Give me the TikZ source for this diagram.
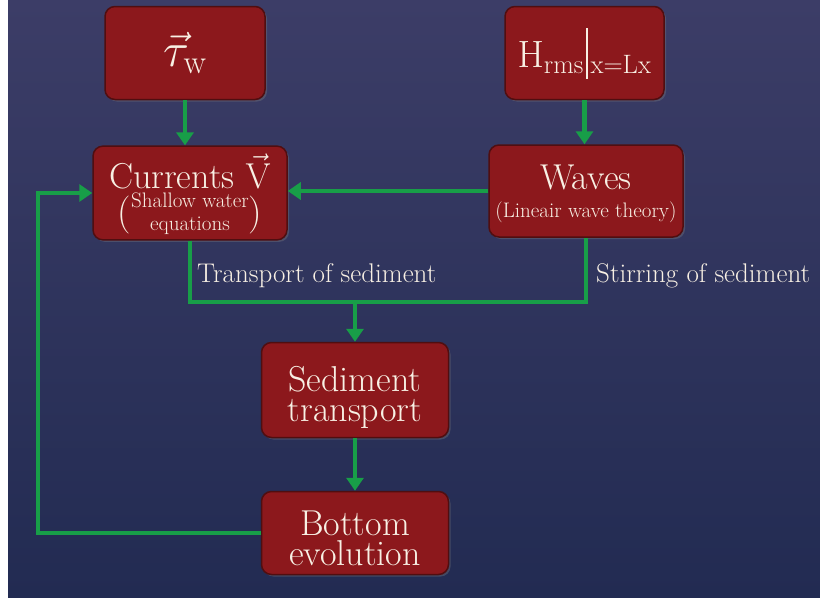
\RequirePackage{fix-cm}
\documentclass[tikz,border=0pt]{standalone}
\usepackage{amsmath}
\usepackage{tikz}
\usetikzlibrary{positioning, calc, arrows.meta, shapes, shadows}

\definecolor{bgtop}{RGB}{60,61,103}
\definecolor{bgbot}{RGB}{34,43,82}
\definecolor{boxred}{RGB}{140,24,28}
\definecolor{boxedge}{RGB}{80,14,16}
\definecolor{boxtext}{RGB}{248,240,228}
\definecolor{flowgreen}{RGB}{24,158,72}
\newcommand{\topstrut}[1]{\rule{0pt}{#1}}
\newcommand{\bigparen}[1]{\raisebox{-4.25pt}{\fontsize{38}{38}\selectfont#1}}

\begin{document}
\begin{tikzpicture}[x=1pt, y=-1pt,
    block/.style={rectangle, rounded corners=10pt, fill=boxred, draw=boxedge,
        line width=1.5pt, text=boxtext, align=center, inner sep=2pt,
        drop shadow={opacity=0.35, shadow xshift=2pt, shadow yshift=-2pt},
        font=\fontsize{36}{30}\selectfont},
    flow/.style={flowgreen, line width=4.5pt, -{Triangle[width=17pt,length=13pt]}},
    lbl/.style={text=boxtext, font=\fontsize{27}{30}\selectfont, inner sep=0pt, anchor=base west}]
    \useasboundingbox (0,0) rectangle (820,600);
    \shade[top color=bgtop, bottom color=bgbot] (8,0) rectangle (820,597);
    \node[block, minimum width=160pt, minimum height=93pt, font=\fontsize{48}{48}\selectfont] (tau) at (185,53)
        {$\vec{\tau}_{\mathrm{w}}$};
    \node[block, minimum width=159pt, minimum height=93pt, font=\fontsize{38}{40}\selectfont] (hrms) at (584.5,53)
        {$\mathrm{H}_{\mathrm{rms}}$\hspace{2pt}\rule[-11pt]{1.8pt}{51pt}\hspace{3pt}${}_{\mathrm{x=Lx}}$};
    \node[block, minimum width=194pt, minimum height=93pt] (curr) at (190,193)
        {\topstrut{40pt}Currents $\vec{\mathrm{V}}$\\[2pt]
         {\fontsize{21}{23}\selectfont\bigparen{(}\begin{tabular}{@{}c@{}}Shallow water\\
         equations\end{tabular}\bigparen{)}}};
    \node[block, minimum width=194pt, minimum height=92pt] (waves) at (586,191)
        {\topstrut{30pt}Waves\\[-2pt]{\fontsize{21}{22}\selectfont (Lineair wave theory)}};
    \node[block, minimum width=187pt, minimum height=95pt] (sed) at (355,390)
        {\topstrut{41pt}Sediment\\transport};
    \node[block, minimum width=187pt, minimum height=83pt] (bot) at (355,533)
        {\topstrut{35pt}Bottom\\evolution};
    \coordinate (split) at (355,302);
    \coordinate (back) at (38,536);
    \draw[flow] (tau) -- (tau |- curr.north);
    \draw[flow] (hrms) -- (hrms |- waves.north);
    \draw[flow] (waves.west) -- (waves.west -| curr.east);
    \draw[flowgreen, line width=4.5pt, line join=miter]
        (curr.south) -- (curr.south |- split) -- (waves.south |- split) -- (waves.south);
    \draw[flow] (split) -- (sed);
    \draw[flow] (sed) -- (bot);
    \draw[flow, line join=miter] (bot.west) -- (bot.west -| back) -- (back |- curr.west) -- (curr.west);
    \node[lbl] (tlbl) at (197,282) {Transport of sediment};
    \node[lbl] (slbl) at (596,282) {Stirring of sediment};
\end{tikzpicture}
\end{document}
